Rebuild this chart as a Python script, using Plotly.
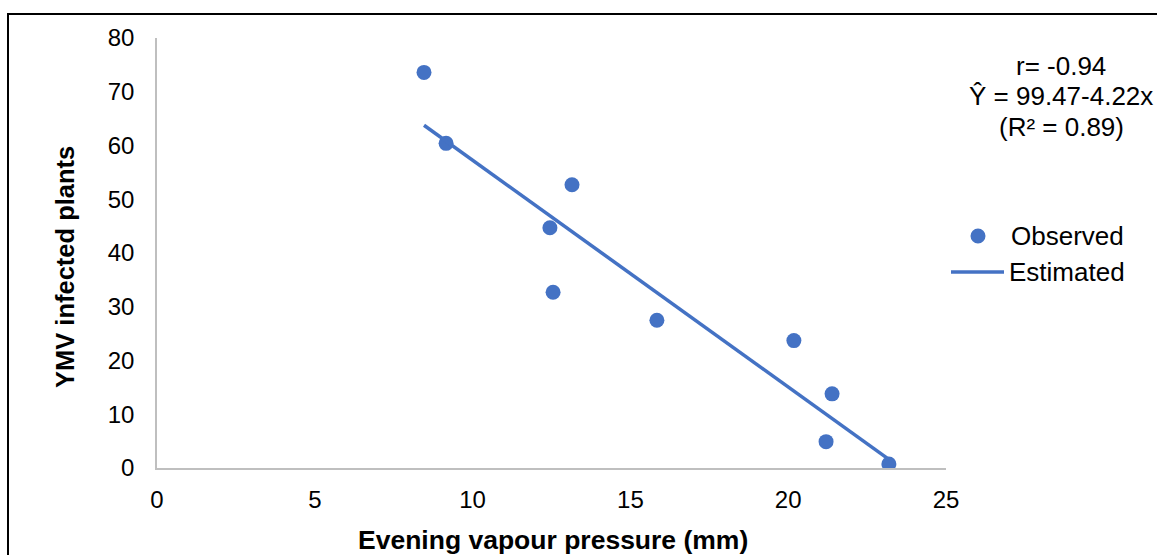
import plotly.graph_objects as go

# Observed evening vapour pressure (mm) and YMV infected plants
vapour_pressure = [8.46, 9.16, 13.15, 12.45, 12.55, 15.84, 20.18, 21.39, 21.2, 23.19]
infected_plants = [73.6, 60.4, 52.7, 44.7, 32.7, 27.5, 23.7, 13.8, 4.9, 0.75]

# Fitted regression: Y = 99.47 - 4.22x
intercept = 99.47
slope = -4.22
fit_x = [min(vapour_pressure), max(vapour_pressure)]
fit_y = [intercept + slope * x for x in fit_x]

x_ticks = [0, 5, 10, 15, 20, 25]
y_ticks = [0, 10, 20, 30, 40, 50, 60, 70, 80]

blue = "#4472C4"
font_family = "Liberation Sans, Arial, sans-serif"

fig = go.Figure()
fig.add_trace(go.Scatter(
    x=vapour_pressure, y=infected_plants, mode="markers", name="Observed",
    marker=dict(color=blue, size=15), showlegend=False,
))
fig.add_trace(go.Scatter(
    x=fit_x, y=fit_y, mode="lines", name="Estimated",
    line=dict(color=blue, width=3.5), showlegend=False,
))

W, H = 1157, 555
L, R, T, B = 157, 211, 38, 87
pw, ph = W - L - R, H - T - B

def px_x(p):
    return (p - L) / pw

def px_y(p):
    return (H - B - p) / ph

fig.update_layout(
    width=W, height=H,
    margin=dict(l=L, r=R, t=T, b=B, autoexpand=False),
    paper_bgcolor="white", plot_bgcolor="white",
    font=dict(family=font_family, size=24, color="#000000"),
    showlegend=False,
    xaxis=dict(
        range=[0, 25], tickvals=x_ticks, showgrid=False, zeroline=False,
        showline=True, linecolor="#bfbfbf", linewidth=1.5, automargin=False,
        ticks="", ticklabelstandoff=9, tickfont=dict(size=24),
    ),
    yaxis=dict(
        range=[0, 80], tickvals=y_ticks, showgrid=False, zeroline=False,
        showline=True, linecolor="#bfbfbf", linewidth=1.5, automargin=False,
        ticks="", ticklabelstandoff=16, tickfont=dict(size=24),
    ),
)

# Axis titles
fig.add_annotation(
    x=px_x(553), y=px_y(540), xref="paper", yref="paper",
    text="<b>Evening vapour pressure (mm)</b>", showarrow=False,
    xanchor="center", yanchor="middle", font=dict(size=26.5, family=font_family),
)
fig.add_annotation(
    x=px_x(65), y=px_y(267), xref="paper", yref="paper",
    text="<b>YMV infected plants</b>", showarrow=False, textangle=-90,
    xanchor="center", yanchor="middle", font=dict(size=25.5, family=font_family),
)

# Regression statistics
for text, yp in [("r= -0.94", 66), ("Ŷ = 99.47-4.22x", 96), ("(R² = 0.89)", 127)]:
    fig.add_annotation(
        x=px_x(1061), y=px_y(yp), xref="paper", yref="paper",
        text=text, showarrow=False, xanchor="center", yanchor="middle",
        font=dict(size=26, family=font_family),
    )

# Legend: observed marker and estimated line keys
fig.add_shape(
    type="circle", xref="paper", yref="paper",
    xsizemode="pixel", ysizemode="pixel",
    xanchor=px_x(978), yanchor=px_y(236),
    x0=-7.5, x1=7.5, y0=-7.5, y1=7.5,
    fillcolor=blue, line=dict(width=0),
)
fig.add_shape(
    type="line", xref="paper", yref="paper",
    x0=px_x(951), x1=px_x(1004), y0=px_y(272), y1=px_y(272),
    line=dict(color=blue, width=3.5),
)
for text, xp, yp in [("Observed", 1010, 236), ("Estimated", 1008, 272)]:
    fig.add_annotation(
        x=px_x(xp), y=px_y(yp), xref="paper", yref="paper",
        text=text, showarrow=False, xanchor="left", yanchor="middle",
        font=dict(size=26, family=font_family), borderpad=0,
    )

# Chart frame
fig.add_shape(
    type="rect", xref="paper", yref="paper",
    x0=px_x(8), x1=px_x(W + 10), y0=px_y(H + 10), y1=px_y(14),
    line=dict(color="#000000", width=2), fillcolor="rgba(0,0,0,0)", layer="below",
)

fig.write_html("out.html")
